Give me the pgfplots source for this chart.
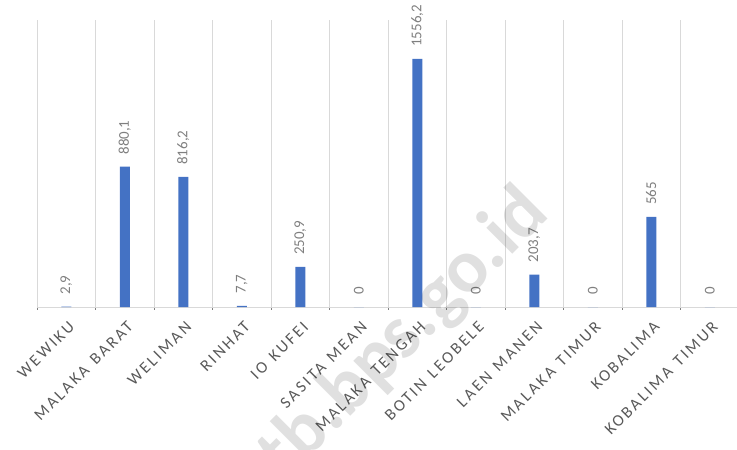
\documentclass[border=0pt]{standalone}
\usepackage{fontspec}
\setmainfont{Carlito}
\newfontfamily\spaced[LetterSpace=15, WordSpace=1.3]{Carlito}
\usepackage{pgfplots}
\pgfplotsset{compat=1.18}

\definecolor{barblue}{HTML}{4472C4}
\definecolor{gridgray}{HTML}{D9D9D9}
\definecolor{ticktext}{HTML}{595959}
\definecolor{valtext}{HTML}{7F7F7F}

\begin{document}
\begin{tikzpicture}
  \begin{axis}[
    name=ax,
    scale only axis,
    width=702bp, height=287bp,
    ybar, bar width=10bp,
    xmin=-0.5, xmax=11.5,
    ymin=0, ymax=1800,
    axis y line=none,
    axis x line*=bottom,
    x axis line style={gridgray, line width=1bp, -},
    xtick={0,...,11},
    major tick length=0pt,
    xticklabels={WEWIKU, MALAKA BARAT, WELIMAN, RINHAT, IO KUFEI, SASITA MEAN,
      MALAKA TENGAH, BOTIN LEOBELE, LAEN MANEN, MALAKA TIMUR, KOBALIMA, KOBALIMA TIMUR},
    xticklabel style={rotate=45, anchor=east, yshift=-16bp, xshift=-5bp,
      font=\spaced\fontsize{16.5}{16.5}\selectfont, text=ticktext},
    minor xtick={-0.5,0.5,...,11.5},
    xminorgrids,
    minor grid style={gridgray, line width=1bp},
    point meta=explicit symbolic,
    nodes near coords,
    nodes near coords style={rotate=90, anchor=west, inner xsep=12bp,
      font=\fontsize{15}{15}\selectfont, text=valtext},
  ]
  \addplot[fill=barblue, draw=none] coordinates {
    (0,2.9) [2,9]
    (1,880.1) [880,1]
    (2,816.2) [816,2]
    (3,7.7) [7,7]
    (4,250.9) [250,9]
    (5,0) [0]
    (6,1556.2) [1556,2]
    (7,0) [0]
    (8,203.7) [203,7]
    (9,0) [0]
    (10,565) [565]
    (11,0) [0]
  };
  \end{axis}
  \node[rotate=45, anchor=base east, inner sep=0pt, text=black, text opacity=0.12,
        font=\bfseries\fontsize{76}{76}\selectfont]
    at ([xshift=514bp,yshift=91bp]ax.south west) {ntb.bps.go.id};
  \pgfresetboundingbox
  \path ([xshift=-37bp,yshift=-143bp]ax.south west) rectangle ([xshift=-2bp,yshift=20bp]ax.north east);
\end{tikzpicture}
\end{document}
